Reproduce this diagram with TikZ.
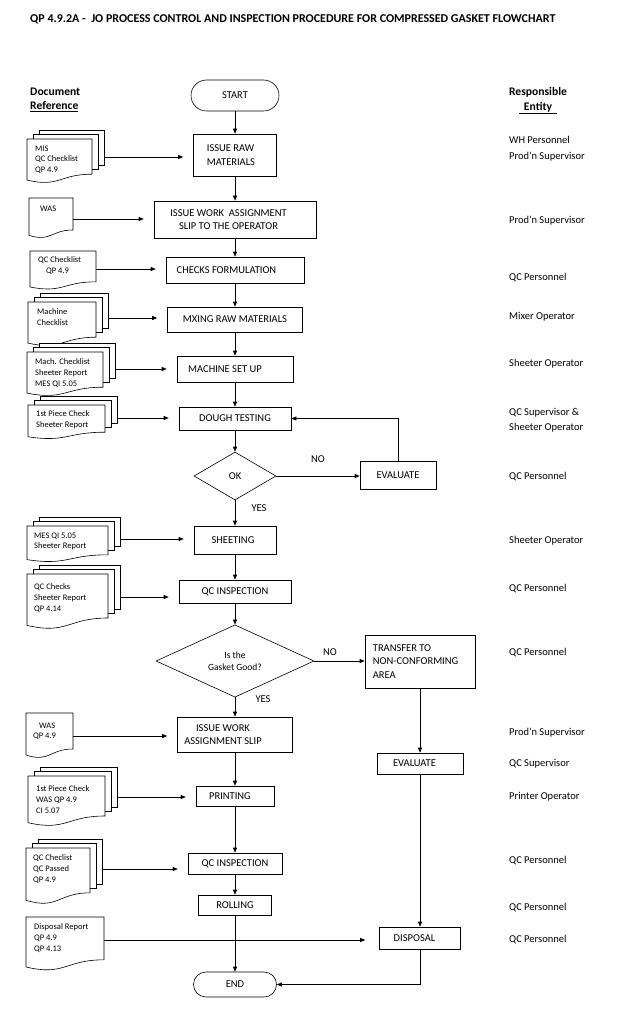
\documentclass[tikz,border=0pt]{standalone}
\usepackage{fontspec}
\setmainfont{Carlito}
\usetikzlibrary{arrows.meta,shapes.geometric}
\newcommand\boxfont{\fontsize{10.5}{13.3}\selectfont}
\newcommand\docfont{\fontsize{8.5}{10.7}\selectfont}
\newcommand\gfont{\fontsize{9.5}{12}\selectfont}
\newcommand\hdrfont{\fontsize{11.6}{13.5}\selectfont\bfseries}
\newcommand\titlefont{\fontsize{12}{14}\selectfont\bfseries}
% single document shape: x1, ytop, x2, height
\newcommand\onedoc[4]{%
  \draw[ln, fill=white] (#1,#2) -- (#3,#2) -- (#3,{#2+0.8*#4})
    .. controls ({0.5*#1+0.5*#3},{#2+0.8*#4}) and ({0.5*#1+0.5*#3},{#2+1.107*#4}) ..
    (#1,{#2+0.934*#4}) -- cycle;}
% multi document shape
\newcommand\multidoc[4]{%
  \draw[ln, fill=white] ({#1+12},{#2-9}) rectangle ({#3+12},{#2+0.8*#4-9});
  \draw[ln, fill=white] ({#1+6},{#2-4.5}) rectangle ({#3+6},{#2+0.8*#4-4.5});
  \onedoc{#1}{#2}{#3}{#4}}
\tikzset{
  ln/.style={line width=0.6pt, draw=black},
  arr/.style={ln, -{Triangle[length=5pt,width=4pt]}},
  docarr/.style={arr, shorten >=10pt},
  procbox/.style={ln, rectangle, inner sep=0pt, font=\boxfont, align=center},
  dec/.style={ln, diamond, inner sep=0pt, font=\boxfont, align=center},
  doctext/.style={inner sep=0pt, align=left, font=\docfont, anchor=north west},
  resp/.style={inner sep=0pt, anchor=west, font=\boxfont, text height=6.8pt, text depth=0pt},
  lbl/.style={inner sep=0pt, font=\boxfont, align=center},
}
\begin{document}
\begin{tikzpicture}[x=1pt,y=-1pt]
\useasboundingbox (0,0) rectangle (629,1024);
\fill[white] (0,0) rectangle (629,1024);

% title and headers
\node[anchor=west, inner sep=0pt, font=\titlefont] (title) at (30,19)
  {QP 4.9.2A -\ \ JO PROCESS CONTROL AND INSPECTION PROCEDURE FOR COMPRESSED GASKET FLOWCHART};
\node[anchor=west, inner sep=0pt, font=\hdrfont] (hdoc) at (30,92) {Document};
\node[anchor=west, inner sep=0pt, font=\hdrfont] (href) at (30,107) {\underline{Reference}};
\node[inner sep=0pt, font=\hdrfont] (hresp) at (538,92) {Responsible};
\node[inner sep=0pt, font=\hdrfont] (hent) at (538,108) {\underline{\hspace{5pt}Entity\hspace{5pt}}};

% main column
\node[procbox, minimum width=88pt, minimum height=31pt, rounded corners=15.5pt] (start) at (235,95.5) {START};
\node[procbox, minimum width=83pt, minimum height=42pt] (raw) at (235,155) {};
\node[lbl, anchor=west, align=left] (rawt) at ([xshift=13.5pt]raw.west) {ISSUE RAW\\MATERIALS};
\node[procbox, minimum width=162pt, minimum height=37pt] (was1) at (235,219.5) {};
\node[lbl] (was1t) at ([xshift=-6.5pt]was1.center) {ISSUE WORK\ \ ASSIGNMENT\\SLIP TO THE OPERATOR};
\node[procbox, minimum width=138pt, minimum height=26pt] (chk) at (235,270) {};
\node[lbl] (chkt) at ([xshift=-8.5pt]chk.center) {CHECKS FORMULATION};
\node[procbox, minimum width=135pt, minimum height=25pt] (mix) at (235,319.5) {MXING RAW MATERIALS};
\node[procbox, minimum width=116pt, minimum height=26pt] (setup) at (235,369) {};
\node[lbl] (setupt) at ([xshift=-10pt]setup.center) {MACHINE SET UP};
\node[procbox, minimum width=112pt, minimum height=23pt] (dough) at (235,418.5) {DOUGH TESTING};
\node[dec, minimum width=82pt, minimum height=48pt] (ok) at (235,476) {OK};
\node[procbox, minimum width=82pt, minimum height=28pt] (sheeting) at (235,540) {};
\node[lbl] (sheetingt) at ([xshift=-2pt]sheeting.center) {SHEETING};
\node[procbox, minimum width=112pt, minimum height=23pt] (qc1) at (235,591.5) {QC INSPECTION};
\node[dec, minimum width=158pt, minimum height=72pt, font=\gfont] (gasket) at (235,661) {Is the\\Gasket Good?};
\node[procbox, minimum width=115pt, minimum height=35pt] (was2) at (235,734.5) {};
\node[lbl] (was2t) at ([xshift=-12pt]was2.center) {ISSUE WORK\\ASSIGNMENT SLIP};
\node[procbox, minimum width=78pt, minimum height=20pt] (print) at (235,796) {};
\node[lbl] (printt) at ([xshift=-5pt]print.center) {PRINTING};
\node[procbox, minimum width=94pt, minimum height=21pt] (qc2) at (235,863.5) {QC INSPECTION};
\node[procbox, minimum width=73pt, minimum height=20pt] (roll) at (235,905) {ROLLING};
\node[procbox, minimum width=83pt, minimum height=25pt, rounded corners=12.5pt] (end) at (235,984.5) {END};

% right column
\node[procbox, minimum width=76pt, minimum height=28pt] (eval1) at (398,475) {EVALUATE};
\node[procbox, minimum width=110pt, minimum height=53pt] (transfer) at (420,661.5) {};
\node[lbl, anchor=west, align=left] (transfert) at ([xshift=8pt]transfer.west) {TRANSFER TO\\NON-CONFORMING\\AREA};
\node[procbox, minimum width=86pt, minimum height=21pt] (eval2) at (420,763.5) {};
\node[lbl] (eval2t) at ([xshift=-5.5pt]eval2.center) {EVALUATE};
\node[procbox, minimum width=81pt, minimum height=22pt] (disposal) at (420,938) {};
\node[lbl] (disposalt) at ([xshift=-5.5pt]disposal.center) {DISPOSAL};

% main flow
\draw[arr] (start) -- (raw);
\draw[arr] (raw) -- (was1);
\draw[arr] (was1) -- (chk);
\draw[arr] (chk) -- (mix);
\draw[arr] (mix) -- (setup);
\draw[arr] (setup) -- (dough);
\draw[arr] (dough) -- (ok);
\draw[arr] (ok) -- (sheeting);
\draw[arr] (sheeting) -- (qc1);
\draw[arr] (qc1) -- (gasket);
\draw[arr] (gasket) -- (was2);
\draw[arr] (was2) -- (print);
\draw[arr] (print) -- (qc2);
\draw[arr] (qc2) -- (roll);
\draw[arr] (roll) -- (end);
\draw[arr] (ok.east) -- (ok.east -| eval1.west);
\draw[arr] (eval1.north) |- (dough.east);
\draw[arr] (gasket.east) -- (gasket.east -| transfer.west);
\draw[arr] (transfer) -- (eval2);
\draw[arr] (eval2) -- (disposal);
\draw[arr] (disposal.south) |- (end.east);

\node[lbl] (no1) at (318,459) {NO};
\node[lbl] (yes1) at (259,508) {YES};
\node[lbl] (no2) at (330,652) {NO};
\node[lbl] (yes2) at (263,699) {YES};

% document references
\multidoc{27}{139}{92}{44}
\node[doctext] (d1) at (35,145.5) {MIS\\QC Checklist\\QP 4.9};
\coordinate (d1r) at (104,157);
\draw[docarr] (d1r) -- (d1r -| raw.west);

\onedoc{29}{198}{73}{40}
\node[doctext] (d2) at (40,205.5) {WAS};
\coordinate (d2r) at (73,219);
\draw[docarr] (d2r) -- (d2r -| was1.west);

\onedoc{30}{251}{96}{38.5}
\node[doctext] (d3) at (38,256.5) {QC Checklist\\\hspace*{8pt}QP 4.9};
\coordinate (d3r) at (96,269);
\draw[docarr] (d3r) -- (d3r -| chk.west);

\multidoc{28}{302}{96}{44}
\node[doctext] (d4) at (37,308.5) {Machine\\Checklist};
\coordinate (d4r) at (108,318);
\draw[docarr] (d4r) -- (d4r -| mix.west);

\multidoc{27}{352}{103}{44}
\node[doctext] (d5) at (35,358.5) {Mach. Checklist\\Sheeter Report\\MES QI 5.05};
\coordinate (d5r) at (115,369);
\draw[docarr] (d5r) -- (d5r -| setup.west);

\multidoc{28}{405}{105}{34}
\node[doctext] (d6) at (36,410.5) {1st Piece Check\\Sheeter Report};
\coordinate (d6r) at (117,418);
\draw[docarr] (d6r) -- (d6r -| dough.west);

\multidoc{27}{526}{108}{36}
\node[doctext] (d7) at (34,532.5) {MES QI 5.05\\Sheeter Report};
\coordinate (d7r) at (120,539);
\draw[docarr] (d7r) -- (d7r -| sheeting.west);

\multidoc{27}{574}{108}{55}
\node[doctext] (d8) at (34,583.5) {QC Checks\\Sheeter Report\\QP 4.14};
\coordinate (d8r) at (120,597);
\draw[docarr] (d8r) -- (d8r -| qc1.west);

\onedoc{26}{713}{73}{45}
\node[doctext] (d9) at (33,722.5) {\hspace*{6pt}WAS\\QP 4.9};
\coordinate (d9r) at (73,736);
\draw[docarr] (d9r) -- (d9r -| was2.west);

\multidoc{28}{776}{105}{50}
\node[doctext] (d10) at (36,785.5) {1st Piece Check\\WAS QP 4.9\\CI 5.07};
\coordinate (d10r) at (117,797);
\draw[docarr] (d10r) -- (d10r -| print.west);

\multidoc{26}{848}{90}{56}
\node[doctext] (d11) at (33,854.5) {QC Checlist\\QC Passed\\QP 4.9};
\coordinate (d11r) at (102,869);
\draw[docarr] (d11r) -- (d11r -| qc2.west);

\onedoc{26}{917}{104}{53.5}
\node[doctext] (d12) at (34,923.5) {Disposal Report\\QP 4.9\\QP 4.13};
\coordinate (d12r) at (104,940);
\draw[docarr, shorten >=14pt] (d12r) -- (d12r -| disposal.west);

% responsible entity
\node[resp] (r1) at (509,140) {WH Personnel};
\node[resp] (r2) at (509,156) {Prod’n Supervisor};
\node[resp] (r3) at (509,220) {Prod’n Supervisor};
\node[resp] (r4) at (509,277) {QC Personnel};
\node[resp] (r5) at (509,316) {Mixer Operator};
\node[resp] (r6) at (509,363) {Sheeter Operator};
\node[resp] (r7) at (509,412) {QC Supervisor \&};
\node[resp] (r8) at (509,427) {Sheeter Operator};
\node[resp] (r9) at (509,476) {QC Personnel};
\node[resp] (r10) at (509,540) {Sheeter Operator};
\node[resp] (r11) at (509,588) {QC Personnel};
\node[resp] (r12) at (509,652) {QC Personnel};
\node[resp] (r13) at (509,732) {Prod’n Supervisor};
\node[resp] (r14) at (509,763) {QC Supervisor};
\node[resp] (r15) at (509,796) {Printer Operator};
\node[resp] (r16) at (509,860) {QC Personnel};
\node[resp] (r17) at (509,907) {QC Personnel};
\node[resp] (r18) at (509,939) {QC Personnel};
\end{tikzpicture}
\end{document}
